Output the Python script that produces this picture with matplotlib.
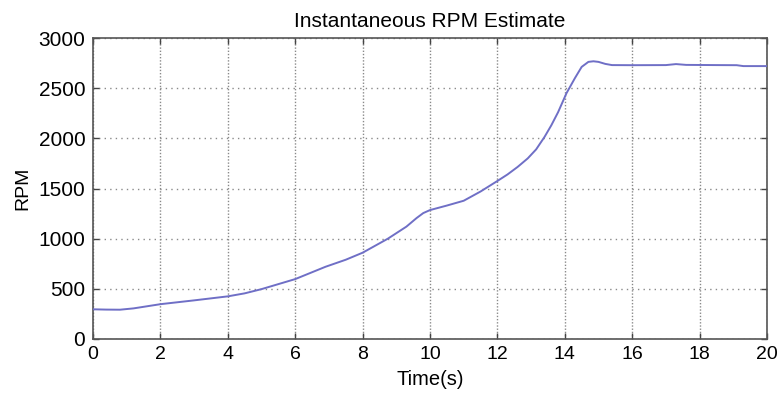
import matplotlib
matplotlib.use("Agg")
import matplotlib.pyplot as plt


# RPM estimate
time_s = [0.0, 0.4, 0.8, 1.2, 2.0, 3.0, 4.0, 4.5, 5.0, 6.0, 6.9, 7.5, 8.0,
          8.75, 9.3, 9.6, 9.8, 10.0, 10.5, 11.0, 11.5, 12.0, 12.3, 12.6,
          12.9, 13.15, 13.4, 13.6, 13.8, 14.05, 14.3, 14.5, 14.7, 14.85,
          15.0, 15.2, 15.4, 16.0, 17.0, 17.3, 17.6, 18.5, 19.1, 19.3, 20.0]
rpm = [296, 293, 292, 305, 347, 385, 425, 455, 497, 597, 720, 790, 860,
       1000, 1120, 1205, 1255, 1285, 1330, 1378, 1470, 1575, 1640, 1715,
       1800, 1890, 2015, 2130, 2260, 2450, 2600, 2712, 2762, 2768,
       2762, 2742, 2730, 2729, 2730, 2740, 2732, 2730, 2729, 2720, 2720]

xticks = list(range(0, 21, 2))
yticks = list(range(0, 3001, 500))

plt.rcParams["font.family"] = ["Liberation Sans", "DejaVu Sans"]

fig = plt.figure(figsize=(7.79, 3.94), dpi=100)
ax = fig.add_axes([93 / 779, 55 / 394, 674 / 779, 301 / 394])

ax.plot(time_s, rpm, color="#6f6fc6", linewidth=1.4, zorder=3)

ax.set_xlim(0, 20)
ax.set_ylim(0, 3000)
ax.set_xticks(xticks)
ax.set_yticks(yticks)
ax.tick_params(direction="in", length=4, width=1, color="#444444",
               top=True, right=True)
ax.tick_params(axis="x", labelsize=14, pad=5)
ax.tick_params(axis="y", labelsize=15, pad=5.5)

# vertical grid dots are denser than the horizontal ones in the reference
ax.grid(True, axis="x", linestyle=(0, (1, 1.3)), color="#8a8a8a", linewidth=1.0)
ax.grid(True, axis="y", linestyle=(0, (1, 3)), color="#8a8a8a", linewidth=1.0)

for s in ax.spines.values():
    s.set_color("#555555")
    s.set_linewidth(1.2)

ax.set_title("Instantaneous RPM Estimate", fontsize=15, pad=8)
ax.set_xlabel("Time(s)", fontsize=14.5, labelpad=5)
ax.set_ylabel("RPM", fontsize=14, labelpad=5)

fig.savefig("out.png", dpi=100)
